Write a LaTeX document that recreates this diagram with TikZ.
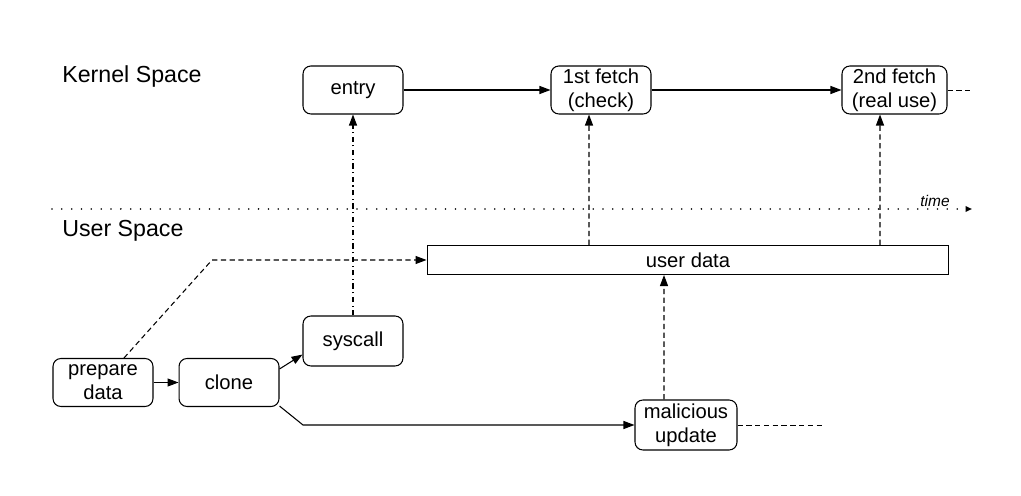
\documentclass[tikz,border=0pt]{standalone}
\usepackage{fontspec}
\setmainfont{Liberation Sans}
\usetikzlibrary{arrows.meta,positioning}

\begin{document}
\begin{tikzpicture}[x=0.02cm,y=-0.02cm,
  proc/.style={rounded corners=4.5pt,draw=black,line width=0.6pt,fill=white,
    minimum width=2cm,minimum height=0.96cm,align=center,inner sep=1pt,
    font=\fontsize{11.5}{13.6}\selectfont},
  arr/.style={-{Triangle[length=2.2mm,width=1.6mm]},line width=0.6pt},
  dsh/.style={arr,dash pattern=on 3pt off 2pt},
  tail/.style={line width=0.5pt,dash pattern=on 3pt off 2pt},
  lbl/.style={font=\fontsize{13.2}{15}\selectfont,anchor=west,inner sep=0pt}
]
\useasboundingbox (0,0) rectangle (1021,496);
% space labels and time axis
\node[lbl] (kspace) at (62,77) {Kernel Space};
\node[lbl] (uspace) at (62,231) {User Space};
\coordinate (t0) at (52,209);
\coordinate (t1) at (972,209);
\draw[line width=1pt,line cap=round,dash pattern=on 0pt off 5.6pt,
  -{Triangle[length=1.3mm,width=1.1mm]}] (t0) -- (t1);
\node[font=\itshape\fontsize{8.8}{10}\selectfont] (tlabel) at (935,201) {time};
% kernel side
\node[proc] (entry) at (353,90) {entry};
\node[proc] (fetch1) at (601,90) {1st fetch\\(check)};
\node[proc,minimum width=2.1cm] (fetch2) at (894.5,90) {2nd fetch\\(real use)};
% user side
\node[proc,rounded corners=0pt,minimum width=10.44cm,minimum height=0.58cm]
  (udata) at (688,260) {user data};
\node[proc] (prep) at (103,382.5) {prepare\\data};
\node[proc,right=0.5cm of prep] (clone) {clone};
\node[proc,minimum height=1cm] (sys) at (353,341) {syscall};
\node[proc,minimum width=2.04cm,minimum height=1cm] (mal) at (686,425) {malicious\\update};
\coordinate (pbend) at (212,260);
\coordinate (cbend) at (303,425);
\coordinate (fend) at (972,90);
\coordinate (mend) at (822,425);
% connectors
\draw[arr] (entry) -- (fetch1);
\draw[arr] (fetch1) -- (fetch2);
\draw[tail] (fetch2.east) -- (fend);
\draw[arr,dash dot] (sys) -- (entry);
\draw[dsh] (udata.north -| 589,0) -- ([xshift=-0.24cm]fetch1.south);
\draw[dsh] (udata.north -| 880,0) -- ([xshift=-0.29cm]fetch2.south);
\draw[dsh] ([xshift=0.42cm]prep.north) -- (pbend) -- (udata.west);
\draw[arr] (prep) -- (clone);
\draw[arr] (clone.15) -- (sys.195);
\draw[arr] (clone.-25) -- (cbend) -- (mal.west);
\draw[dsh] ([xshift=-0.44cm]mal.north) -- (udata.south -| 664,0);
\draw[tail] (mal.east) -- (mend);
\end{tikzpicture}
\end{document}
